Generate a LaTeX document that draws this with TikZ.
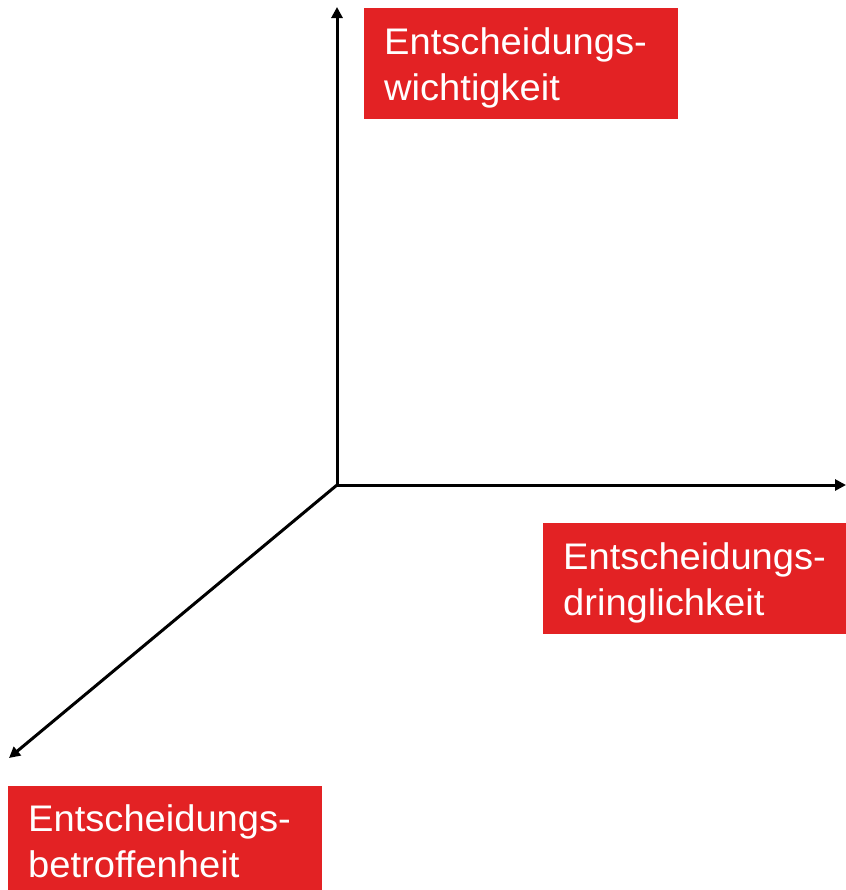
\documentclass[tikz,border=0pt]{standalone}
\usepackage{fontspec}
\setmainfont{Liberation Sans}[FakeStretch=1.03]
\usetikzlibrary{arrows.meta}
\definecolor{boxred}{RGB}{227,34,36}
\begin{document}
\begin{tikzpicture}[x=1bp,y=-1bp,
  axis/.style={line width=3bp, black, -{Triangle[length=11bp,width=11bp]}},
  redlabel/.style={fill=boxred, text=white, anchor=north west, inner xsep=20bp,
    inner ysep=0pt, align=left, text width=274bp,
    font=\fontsize{37bp}{46bp}\selectfont}]
\useasboundingbox (0,0) rectangle (846,890);
\coordinate (O) at (337,485);
\coordinate (top) at (337,7);
\coordinate (right) at (846,485);
\coordinate (dl) at (9,758);
\draw[axis] (O) -- (top);
\draw[axis] (O) -- (right);
\draw[axis] (O) -- (dl);
\node[redlabel] (wicht) at (364,8) {\rule{0pt}{46bp}Entscheidungs-\\wichtigkeit\rule[-19bp]{0pt}{19bp}};
\node[redlabel] (dring) at (543,523) {\rule{0pt}{46bp}Entscheidungs-\\dringlichkeit\rule[-19bp]{0pt}{19bp}};
\node[redlabel] (betr) at (8,786) {\rule{0pt}{45bp}Entscheidungs-\\betroffenheit\rule[-19bp]{0pt}{19bp}};
\end{tikzpicture}
\end{document}
